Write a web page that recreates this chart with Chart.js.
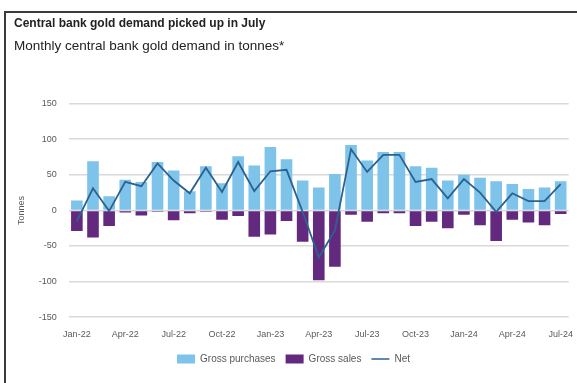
<!DOCTYPE html>
<html>
<head>
<meta charset="utf-8">
<script src="https://cdn.jsdelivr.net/npm/chart.js@4"></script>
<style>
  html, body { margin: 0; padding: 0; background: #fff; }
  #wrap { position: relative; width: 577px; height: 383px; overflow: hidden; }
  #frame {
    position: absolute; left: 4px; top: 11px; width: 620px; height: 420px;
    border-left: 2px solid #3c3c3c; border-top: 2px solid #3c3c3c;
  }
  #chart { position: absolute; left: 0; top: 0; }
</style>
</head>
<body>
<div id="wrap">
  <div id="frame"></div>
  <canvas id="chart" width="577" height="383"></canvas>
</div>
<script>
const months = [
  "Jan-22", "Feb-22", "Mar-22", "Apr-22", "May-22", "Jun-22", "Jul-22", "Aug-22", "Sep-22", "Oct-22", "Nov-22", "Dec-22",
  "Jan-23", "Feb-23", "Mar-23", "Apr-23", "May-23", "Jun-23", "Jul-23", "Aug-23", "Sep-23", "Oct-23", "Nov-23", "Dec-23",
  "Jan-24", "Feb-24", "Mar-24", "Apr-24", "May-24", "Jun-24", "Jul-24",
];
const grossPurchases = [14, 69, 20, 43, 40, 68, 56, 27, 62, 38, 76, 63, 89, 72, 42, 32, 51, 92, 70, 82, 82, 62, 60, 42, 50, 46, 41, 37, 30, 32, 41];
const grossSales = [-29, -38, -22, -3, -7, -2, -14, -4, -2, -13, -8, -37, -34, -15, -44, -98, -79, -6, -16, -4, -4, -22, -16, -25, -6, -21, -43, -13, -17, -21, -5];
const net = [-15, 31, -1, 40, 34, 66, 42, 24, 60, 26, 68, 27, 55, 57, -2, -66, -28, 86, 54, 78, 78, 40, 44, 17, 44, 25, -2, 24, 13, 13, 37];
const yTicks = [-150, -100, -50, 0, 50, 100, 150];

const purchaseColor = "#7dc3ea";
const salesColor = "#63297f";
const netColor = "#2c628f";

const ctx = document.getElementById("chart").getContext("2d");
new Chart(ctx, {
  type: "bar",
  data: {
    labels: months,
    datasets: [
      {
        label: "Gross purchases",
        data: grossPurchases,
        backgroundColor: purchaseColor,
        grouped: false,
        barPercentage: 0.72,
        categoryPercentage: 1,
        order: 1,
      },
      {
        label: "Gross sales",
        data: grossSales,
        backgroundColor: salesColor,
        grouped: false,
        barPercentage: 0.72,
        categoryPercentage: 1,
        order: 1,
      },
      {
        type: "line",
        label: "Net",
        data: net,
        borderColor: netColor,
        backgroundColor: netColor,
        borderWidth: 1.8,
        pointRadius: 0,
        tension: 0,
        order: 0,
      },
    ],
  },
  options: {
    responsive: false,
    animation: false,
    layout: { padding: { left: 14, right: 4, top: 0, bottom: 9 } },
    plugins: {
      title: {
        display: true,
        text: "Central bank gold demand picked up in July",
        align: "start",
        color: "#222",
        font: { family: "Liberation Sans", size: 12, weight: "bold" },
        padding: { top: 16, bottom: 5 },
      },
      subtitle: {
        display: true,
        text: "Monthly central bank gold demand in tonnes*",
        align: "start",
        color: "#222",
        font: { family: "Liberation Sans", size: 13.5 },
        padding: { top: 3, bottom: 49 },
      },
      legend: {
        position: "bottom",
        labels: {
          color: "#595959",
          font: { family: "Liberation Sans", size: 10 },
          usePointStyle: true,
          pointStyleWidth: 18,
          boxHeight: 9,
          padding: 10,
          sort: (a, b) => a.datasetIndex - b.datasetIndex,
          generateLabels(chart) {
            const items = Chart.defaults.plugins.legend.labels.generateLabels(chart);
            items.forEach((it) => {
              if (it.datasetIndex === 2) {
                it.pointStyle = "line";
                it.lineWidth = 1.5;
                it.strokeStyle = netColor;
              } else {
                it.pointStyle = "rect";
                it.lineWidth = 0;
              }
            });
            return items;
          },
        },
      },
      tooltip: { enabled: false },
    },
    scales: {
      x: {
        grid: { display: false },
        border: { display: false },
        ticks: {
          autoSkip: false,
          maxRotation: 0,
          minRotation: 0,
          padding: 4,
          color: "#595959",
          font: { family: "Liberation Sans", size: 9 },
          callback: (v, i) => (i % 3 === 0 ? months[i] : ""),
        },
      },
      y: {
        min: -150,
        max: 150,
        afterBuildTicks: (axis) => {
          axis.ticks = yTicks.map((v) => ({ value: v }));
        },
        grid: { color: "#d9d9d9", lineWidth: 1.5, drawTicks: false },
        border: { display: false },
        ticks: {
          padding: 12,
          color: "#595959",
          font: { family: "Liberation Sans", size: 9 },
        },
        title: {
          display: true,
          text: "Tonnes",
          color: "#595959",
          font: { family: "Liberation Sans", size: 9 },
          padding: { top: 2, bottom: 0 },
        },
      },
    },
  },
});
</script>
</body>
</html>
